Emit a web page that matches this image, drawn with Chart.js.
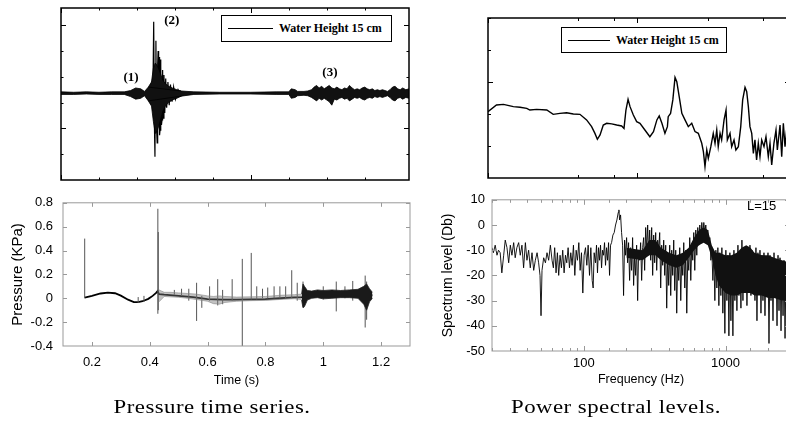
<!DOCTYPE html>
<html>
<head>
<meta charset="utf-8">
<script src="https://cdn.jsdelivr.net/npm/chart.js@4.4.1/dist/chart.umd.min.js"></script>
<style>
html, body { margin: 0; padding: 0; background: #fff; }
body { width: 786px; height: 428px; overflow: hidden; position: relative; }
.pane { position: absolute; }
.leg { position: absolute; box-sizing: border-box; border: 1px solid #000; background: #fff;
       font: bold 12px "Liberation Serif", serif; color: #000; display: flex; align-items: center; white-space: nowrap; }
.leg .ln { display: inline-block; border-top: 1px solid #000; margin: 0 6px 0 6px; }
.cap { position: absolute; font: 19px "Liberation Serif", serif; letter-spacing: 0.4px; color: #000;
       white-space: nowrap; transform: translateX(-50%) scaleX(1.2); transform-origin: center; }
.note { position: absolute; font: 13px "Liberation Sans", Arial, sans-serif; color: #000; }
</style>
</head>
<body>
<canvas id="tl" class="pane" width="358" height="182" style="left:56px;top:3px"></canvas>
<canvas id="tr" class="pane" width="312" height="170" style="left:483px;top:13px"></canvas>
<canvas id="bl" class="pane" width="420" height="215" style="left:0px;top:185px"></canvas>
<canvas id="br" class="pane" width="375" height="215" style="left:420px;top:185px"></canvas>

<div class="leg" style="left:221px;top:15px;width:171px;height:27px"><span class="ln" style="width:45px"></span>Water Height 15 cm</div>
<div class="leg" style="left:561px;top:27px;width:166px;height:26px"><span class="ln" style="width:42px"></span>Water Height 15 cm</div>
<div class="note" style="left:747px;top:198px">L=15</div>
<div class="cap" style="left:212px;top:396px">Pressure time series.</div>
<div class="cap" style="left:616px;top:396px">Power spectral levels.</div>

<script>
// ---- top left: raw pressure signal (arbitrary units) ----
var tlEnvT  = [0, 0.02, 0.04, 0.06, 0.08, 0.10, 0.110, 0.118, 0.126, 0.132, 0.138, 0.190,
               0.21, 0.25, 0.30, 0.34, 0.36, 0.364, 0.370, 0.374, 0.384,
               0.390, 0.396, 0.400, 0.404, 0.408, 0.412, 0.416, 0.420, 0.424, 0.428, 0.432, 0.436, 0.440, 0.444,
               0.448, 0.452, 0.456, 0.460, 0.464, 0.468, 0.472, 0.476, 0.480, 0.484, 0.488, 0.492, 0.496, 0.500,
               0.504, 0.508, 0.512, 0.516, 0.520, 0.524, 0.528, 0.532, 0.536, 0.540, 0.545, 0.550];
var tlEnvHi = [0.025, 0.02, 0.025, 0.02, 0.025, 0.025, 0.04, 0.07, 0.06, 0.03, 0.08, 0.035,
               0.025, 0.02, 0.02, 0.025, 0.025, 0.06, 0.05, 0.03, 0.03,
               0.035, 0.05, 0.08, 0.10, 0.07, 0.09, 0.06, 0.08, 0.10, 0.07, 0.06, 0.08, 0.06, 0.05,
               0.07, 0.06, 0.10, 0.07, 0.05, 0.06, 0.05, 0.07, 0.08, 0.06, 0.05, 0.06, 0.04, 0.05,
               0.04, 0.05, 0.04, 0.03, 0.05, 0.08, 0.09, 0.06, 0.05, 0.07, 0.05, 0.06];
var tlEnvLo = [-0.005, -0.005, 0.0, -0.005, -0.005, -0.005, -0.03, -0.06, -0.05, -0.02, -0.08, -0.025,
               -0.005, 0.0, 0.0, -0.005, -0.005, -0.05, -0.04, -0.02, -0.015,
               -0.02, -0.04, -0.06, -0.08, -0.05, -0.07, -0.05, -0.07, -0.09, -0.13, -0.06, -0.07, -0.05, -0.04,
               -0.06, -0.05, -0.08, -0.06, -0.04, -0.05, -0.04, -0.06, -0.07, -0.05, -0.04, -0.05, -0.03, -0.04,
               -0.03, -0.04, -0.03, -0.02, -0.04, -0.07, -0.08, -0.05, -0.04, -0.06, -0.04, -0.05];
var tlCoreT  = [0.138, 0.143, 0.146, 0.149, 0.152, 0.155, 0.158, 0.161, 0.165, 0.170, 0.176, 0.183, 0.190];
var tlCoreHi = [0.08, 0.14, 0.30, 0.36, 0.33, 0.28, 0.22, 0.16, 0.12, 0.09, 0.07, 0.05, 0.035];
var tlCoreLo = [-0.08, -0.14, -0.32, -0.46, -0.43, -0.36, -0.28, -0.20, -0.14, -0.10, -0.07, -0.05, -0.025];
var tlBurstT = [0.140, 0.142, 0.144, 0.145, 0.1465, 0.1475, 0.1485, 0.1492, 0.150, 0.151, 0.152, 0.1528, 0.1535, 0.1543,
                0.155, 0.1558, 0.1565, 0.1573, 0.158, 0.1588, 0.1597, 0.1606, 0.1615, 0.1627, 0.164, 0.1655, 0.167,
                0.169, 0.171, 0.173, 0.1755, 0.178, 0.181, 0.185, 0.19];
var tlBurstV = [0.08, -0.10, 0.15, -0.15, 0.84, -0.30, -0.73, 0.30, 0.62, -0.40, -0.57, 0.35, 0.50, -0.35,
                0.43, -0.48, -0.42, 0.40, 0.32, -0.36, -0.30, 0.28, -0.28, 0.22, -0.22, 0.18, -0.16,
                0.14, -0.13, 0.11, -0.09, 0.08, -0.06, 0.05, -0.03];
var tlNoteT = [0.1106, 0.175, 0.425];
var tlNoteV = [0.186, 0.849, 0.244];
var tlNoteText = ['(1)', '(2)', '(3)'];

// ---- top right: spectrum (arbitrary units) ----
var trFreq = [10.0, 11.4, 12.7, 14.8, 16.4, 18.2, 19.1, 21.2, 24.8, 27.4, 30.4, 33.7, 37.4, 41.4, 45.9, 49.6, 52.2, 54.2,
              56.5, 59.4, 62.6, 67.6, 73.1, 78.9, 81.8, 84.3, 87.1, 89.8, 94.5, 99.5, 104.7, 113, 122, 129, 136, 141,
              147, 154, 160, 162, 168, 174, 180, 185, 192, 200, 210, 221, 233, 245, 258, 272, 279, 286, 294, 301, 313,
              325, 334, 343, 351, 361, 370, 384, 396, 404, 421, 432, 448, 461, 479, 497, 512, 531, 545, 559, 573, 589,
              604, 619, 635, 652, 669, 687, 712, 734, 761, 781, 802, 830, 857, 875, 912, 936, 960, 985, 1010, 1040];
var trLevel = [41.4, 45.6, 46.0, 44.6, 44.2, 43.5, 42.5, 42.9, 42.5, 39.8, 40.4, 40.8, 40.0, 39.8, 36.3, 32.1, 27.9, 24.2,
               26.9, 33.1, 34.2, 33.8, 33.1, 32.5, 31.0, 42.5, 49.2, 44.6, 39.4, 35.2, 34.2, 30.0, 25.8, 29.0, 36.3, 38.8,
               34.2, 27.9, 32.1, 38.3, 40.4, 48.8, 62.9, 60.2, 50.8, 40.4, 36.3, 32.1, 34.2, 29.0, 27.9, 21.7, 16.5, 7.1,
               17.5, 12.3, 19.6, 27.9, 21.7, 30.0, 19.6, 27.9, 23.8, 36.3, 42.5, 23.8, 27.9, 19.6, 23.8, 17.5, 19.6, 32.1,
               48.8, 56.7, 53.9, 44.6, 32.1, 27.9, 15.4, 23.8, 11.3, 21.7, 13.3, 23.8, 19.6, 25.8, 13.3, 21.7, 8.1, 21.7,
               30.0, 17.5, 33.1, 13.3, 34.2, 19.6, 30.0, 18.0];

// ---- bottom left: pressure time series (KPa) ----
var blXTicks = [0.2, 0.4, 0.6, 0.8, 1.0, 1.2];
var blCurveT = [0.175, 0.20, 0.23, 0.255, 0.28, 0.30, 0.325, 0.345, 0.36, 0.375, 0.395, 0.41, 0.422, 0.427, 0.432, 0.45,
                0.50, 0.55, 0.60, 0.65, 0.70, 0.75, 0.80, 0.85, 0.90, 0.93, 0.95, 1.00, 1.05, 1.10, 1.14, 1.17];
var blCurveP = [0.005, 0.02, 0.04, 0.048, 0.042, 0.022, -0.012, -0.032, -0.033, -0.025, -0.005, 0.02, 0.045, 0.06, 0.035, 0.03,
                0.02, 0.01, -0.008, -0.012, -0.012, -0.01, -0.008, 0.0, 0.008, 0.01, 0.025, 0.03, 0.03, 0.035, 0.035, 0.025];
var blFuzzT  = [0.432, 0.45, 0.47, 0.50, 0.53, 0.56, 0.60, 0.62, 0.64, 0.66, 0.70, 0.75, 0.80, 0.85, 0.90, 0.925];
var blFuzzHi = [0.07, 0.05, 0.05, 0.045, 0.04, 0.035, 0.02, 0.015, 0.02, 0.015, 0.01, 0.012, 0.015, 0.025, 0.03, 0.035];
var blFuzzLo = [-0.03, 0.015, 0.012, 0.008, 0.0, -0.01, -0.025, -0.045, -0.05, -0.035, -0.025, -0.02, -0.018, -0.01, -0.004, -0.01];
var blDenseT  = [0.925, 0.930, 0.935, 0.945, 0.96, 0.98, 1.00, 1.03, 1.06, 1.09, 1.12, 1.14, 1.15, 1.16, 1.17];
var blDenseHi = [0.035, 0.12, 0.10, 0.065, 0.06, 0.07, 0.065, 0.07, 0.065, 0.07, 0.075, 0.10, 0.12, 0.08, 0.05];
var blDenseLo = [-0.015, -0.08, -0.07, -0.015, 0.0, 0.005, -0.005, 0.0, 0.005, 0.005, 0.0, -0.05, -0.10, -0.03, 0.0];
var blSpikeT  = [0.175, 0.36, 0.38, 0.428, 0.4295, 0.485, 0.51, 0.535, 0.562, 0.58, 0.607, 0.635, 0.652, 0.685, 0.72, 0.751,
                 0.77, 0.79, 0.808, 0.83, 0.85, 0.87, 0.891, 0.91, 0.93, 1.00, 1.045, 1.075, 1.102, 1.145, 1.15];
var blSpikeLo = [0.0, -0.04, -0.03, -0.13, -0.10, 0.03, 0.02, -0.02, -0.19, -0.08, -0.02, -0.06, -0.05, -0.02, -0.40, -0.01,
                 -0.01, 0.0, 0.0, 0.0, 0.0, 0.0, 0.0, -0.02, -0.07, -0.01, -0.11, 0.0, -0.02, -0.245, -0.18];
var blSpikeHi = [0.50, 0.01, 0.02, 0.75, 0.555, 0.07, 0.08, 0.08, 0.13, 0.02, 0.10, 0.16, 0.07, 0.16, 0.33, 0.38,
                 0.10, 0.08, 0.09, 0.10, 0.10, 0.10, 0.235, 0.13, 0.14, 0.10, 0.14, 0.10, 0.145, 0.19, 0.14];

// ---- bottom right: spectrum level (Db) vs frequency (Hz) ----
var brXTickLabels = [100, 1000];
var brFreq = [22.5, 23.0, 23.7, 24.4, 25.0, 25.7, 26.4, 27.2, 27.9, 28.7, 29.5, 30.3, 31.1, 32.0, 32.8, 33.7, 34.7, 35.6, 36.6, 37.6,
              38.7, 39.7, 40.8, 41.9, 43.1, 44.3, 45.5, 46.8, 48.0, 49.1, 49.9, 50.7, 52.1, 53.6, 55.0, 56.5, 58.1, 59.7, 61.0, 62.3,
              63.7, 65.1, 66.5, 68.0, 69.5, 71.0, 72.6, 74.2, 75.8, 77.5, 79.2, 80.9, 82.7, 84.5, 86.4, 88.3, 90.2, 92.2, 94.2, 96.3,
              98.4, 100.5, 102.8, 105.0, 107.3, 109.7, 112.1, 114.6, 116.4, 118.3, 120.9, 122.9, 124.9, 127.0, 129.1, 131.2, 133.4,
              135.6, 137.8, 140.0, 142.3, 144.7, 147.1, 149.5, 151.9, 154.4, 157.0, 160.4, 163.9, 167.5, 171.2, 175.0, 176.9, 178.8,
              181.7, 184.7, 187.8, 190.8, 194.0, 197.2, 200.4, 203.7, 207.0, 210.4, 213.9, 217.4, 221.0, 224.6, 228.3, 232.1, 235.9,
              239.8, 243.7, 247.7, 251.8, 255.9, 260.1, 264.4, 268.7, 273.2, 277.6, 282.2, 286.8, 291.5, 296.4, 301.2, 306.1, 311.2,
              316.2, 321.4, 326.8, 332.1, 337.5, 343.1, 348.7, 354.4, 360.3, 366.1, 372.2, 378.3, 384.5, 390.8, 397.2, 403.7, 410.4,
              417.1, 424.0, 430.9, 438.0, 445.2, 452.5, 459.9, 467.5, 475.2, 483.1, 490.9, 499.0, 507.2, 515.7, 524.1, 532.7, 541.5,
              550.2, 559.2, 568.5, 577.8, 587.3, 596.8, 606.7, 616.7, 626.8, 637.0, 647.5, 658.2, 669.0, 680.0, 691.2, 702.5, 714.1,
              725.8, 737.7, 749.9, 762.2, 774.8, 787.5, 800.5, 813.7, 827.1, 840.6, 854.5, 868.6, 882.8, 897.3, 912.0, 926.9, 942.3,
              957.4, 973.2, 989.2, 1005, 1022, 1039, 1056, 1073, 1091, 1109, 1127, 1146, 1164, 1184, 1203, 1223, 1243, 1263, 1284,
              1305, 1327, 1348, 1371, 1393, 1416, 1439, 1463, 1487, 1511, 1536, 1561, 1587, 1613, 1639, 1666, 1693, 1721, 1750, 1778,
              1807, 1837, 1867, 1898, 1929, 1961, 1993, 2026, 2059, 2093, 2127, 2162, 2198, 2234, 2271, 2308, 2346, 2384, 2423, 2463,
              2503, 2545, 2586, 2629, 2673, 2720, 2780, 2840];
var brLevel = [-9, -11, -8, -12, -10, -11, -19, -12, -6, -9, -15, -8, -12, -7, -13, -9, -7, -12, -8, -17,
               -7, -14, -10, -17, -11, -18, -14, -11, -15, -20, -36, -18, -13, -15, -11, -14, -8, -14, -17, -9,
               -19, -11, -20, -12, -17, -10, -19, -12, -15, -9, -17, -11, -16, -8, -20, -10, -14, -7, -18, -11,
               -27, -12, -9, -16, -8, -20, -9, -22, -25, -11, -15, -8, -19, -9, -14, -8, -17,
               -10, -12, -7, -16, -9, -14, -7, -20, -8, -7, -4, -3, 0, 2, 5, 6, 2,
               4, -3, -8, -28, -6, -12, -5, -15, -7, -22, -9, -18, -5, -24, -12, -20, -8,
               -30, -10, -14, -7, -22, -9, -5, -18, -1, -10, 0, -12, -2, -14, -1, -20, -4,
               -15, -3, -18, -6, -10, -3, -25, -8, -16, -6, -20, -8, -33, -12, -24, -8, -28,
               -10, -20, -6, -26, -10, -35, -12, -22, -9, -30, -13, -20, -7, -25, -10, -35, -12,
               -18, -5, -22, -8, -14, -3, -18, -2, -12, -1, -8, 0, -6, 1, -4, 1, -3,
               0, -5, -2, -8, -5, -14, -10, -22, -12, -30, -10, -25, -9, -32, -11, -28, -9,
               -35, -12, -43, -10, -30, -12, -44, -11, -38, -13, -44, -10, -30, -12, -34, -8, -28, -11, -33,
               -6, -30, -9, -26, -10, -32, -12, -22, -8, -28, -10, -20, -12, -30, -9, -38, -11, -27, -10, -35,
               -12, -30, -11, -36, -13, -28, -11, -47, -12, -30, -13, -38, -11, -28, -14, -40, -12, -34, -13, -42,
               -15, -36, -14, -45, -16, -30, -14, -38];
var brBandF  = [200, 260, 290, 320, 350, 400, 450, 500, 550, 600, 650, 700, 750, 800, 850, 900, 1000, 1100, 1200,
                1300, 1400, 1500, 1600, 1800, 2000, 2200, 2500, 2850];
var brBandHi = [-9, -10, -6, -6, -9, -11, -12, -11, -9, -5, -2, -1, -2, -8, -11, -11, -12, -12, -11,
                -9, -8, -9, -11, -12, -12, -13, -14, -15];
var brBandLo = [-13, -14, -12, -12, -14, -16, -17, -16, -13, -10, -8, -7, -8, -13, -20, -24, -27, -28, -28,
                -27, -27, -27, -28, -28, -29, -29, -30, -30];

function pts(xs, ys) {
    var out = [];
    for (var i = 0; i < xs.length; i++) out.push({x: xs[i], y: ys[i]});
    return out;
}
function spikePts(ts, lo, hi) {
    var out = [];
    for (var i = 0; i < ts.length; i++) {
        out.push({x: ts[i], y: lo[i]});
        out.push({x: ts[i], y: hi[i]});
        out.push({x: ts[i], y: null});
    }
    return out;
}
function fmt(v) { return String(Math.round(v * 100) / 100); }

// box round the plot area with short inward tick marks
function frameTicks(o) {
    return {
        id: 'frameTicks',
        afterDatasetsDraw: function(chart) {
            var ctx = chart.ctx, a = chart.chartArea;
            ctx.save();
            ctx.strokeStyle = o.color;
            ctx.lineWidth = 1;
            ctx.beginPath();
            ['x', 'y'].forEach(function(id) {
                var s = chart.scales[id], step = o[id + 'Major'];
                s.ticks.forEach(function(t) {
                    var v = t.value, major;
                    if (step === 'log') {
                        var l = Math.log10(v);
                        major = Math.abs(l - Math.round(l)) < 1e-6;
                    } else {
                        major = Math.abs(v / step - Math.round(v / step)) < 1e-6;
                    }
                    var len = major ? o.major : o.minor;
                    var p = Math.round(s.getPixelForValue(v)) + 0.5;
                    if (id === 'x') {
                        if (p < a.left || p > a.right) return;
                        ctx.moveTo(p, a.top); ctx.lineTo(p, a.top + len);
                        ctx.moveTo(p, a.bottom); ctx.lineTo(p, a.bottom - len);
                    } else {
                        if (p < a.top || p > a.bottom) return;
                        ctx.moveTo(a.left, p); ctx.lineTo(a.left + len, p);
                        ctx.moveTo(a.right, p); ctx.lineTo(a.right - len, p);
                    }
                });
            });
            ctx.stroke();
            ctx.lineWidth = o.width;
            ctx.strokeRect(a.left, a.top, a.width, a.height);
            ctx.restore();
        }
    };
}

var notes = {
    id: 'notes',
    afterDatasetsDraw: function(chart) {
        var ctx = chart.ctx, sx = chart.scales.x, sy = chart.scales.y;
        ctx.save();
        ctx.fillStyle = '#000';
        ctx.font = 'bold 13px "Liberation Serif"';
        ctx.textAlign = 'center';
        ctx.textBaseline = 'middle';
        for (var i = 0; i < tlNoteText.length; i++) {
            ctx.fillText(tlNoteText[i], sx.getPixelForValue(tlNoteT[i]), sy.getPixelForValue(tlNoteV[i]));
        }
        ctx.restore();
    }
};

Chart.defaults.font.family = '"Liberation Sans", Arial, sans-serif';
Chart.defaults.color = '#000';

var base = {
    responsive: false,
    animation: false,
    events: [],
    plugins: { legend: { display: false }, tooltip: { enabled: false } },
    elements: { point: { radius: 0 }, line: { tension: 0, borderColor: '#000', borderWidth: 1 } }
};
function opts(extra) {
    return Object.assign({}, base, extra);
}

new Chart(document.getElementById('tl'), {
    type: 'line',
    data: { datasets: [
        { data: pts(tlEnvT, tlEnvHi), borderWidth: 0.8, fill: false },
        { data: pts(tlEnvT, tlEnvLo), borderWidth: 0.8, fill: '-1', backgroundColor: '#111' },
        { data: pts(tlCoreT, tlCoreHi), borderWidth: 0.8, fill: false },
        { data: pts(tlCoreT, tlCoreLo), borderWidth: 0.8, fill: '-1', backgroundColor: '#111' },
        { data: pts(tlBurstT, tlBurstV), borderWidth: 1.2, fill: false }
    ] },
    options: opts({
        layout: { padding: 5 },
        scales: {
            x: { type: 'linear', display: false, min: 0, max: 0.55, ticks: { stepSize: 0.02 } },
            y: { type: 'linear', display: false, min: -1, max: 1, ticks: { stepSize: 0.1 } }
        }
    }),
    plugins: [frameTicks({ color: '#000', width: 1.5, xMajor: 0.1, yMajor: 0.4, major: 5, minor: 2.5 }), notes]
});

new Chart(document.getElementById('tr'), {
    type: 'line',
    data: { datasets: [
        { data: pts(trFreq, trLevel), borderWidth: 1.4, fill: false }
    ] },
    options: opts({
        layout: { padding: 5 },
        scales: {
            x: { type: 'logarithmic', display: false, min: 10, max: 1064 },
            y: { type: 'linear', display: false, min: 0, max: 100, ticks: { stepSize: 10 } }
        }
    }),
    plugins: [frameTicks({ color: '#000', width: 1.5, xMajor: 'log', yMajor: 30, major: 5, minor: 3 })]
});

new Chart(document.getElementById('bl'), {
    type: 'line',
    data: { datasets: [
        { data: pts(blFuzzT, blFuzzHi), borderWidth: 0.6, borderColor: '#888', fill: false },
        { data: pts(blFuzzT, blFuzzLo), borderWidth: 0.6, borderColor: '#888', fill: '-1', backgroundColor: 'rgba(120,120,120,0.45)' },
        { data: pts(blDenseT, blDenseHi), borderWidth: 0.8, borderColor: '#222', fill: false },
        { data: pts(blDenseT, blDenseLo), borderWidth: 0.8, borderColor: '#222', fill: '-1', backgroundColor: '#1a1a1a' },
        { data: spikePts(blSpikeT, blSpikeLo, blSpikeHi), borderWidth: 1, borderColor: '#555', fill: false, spanGaps: false },
        { data: pts(blCurveT, blCurveP), borderWidth: 1.8, fill: false }
    ] },
    options: opts({
        layout: { padding: { top: 10, right: 10, left: 0, bottom: 0 } },
        scales: {
            x: {
                type: 'linear', min: 0.1, max: 1.3,
                afterBuildTicks: function(s) { s.ticks = blXTicks.map(function(v) { return { value: v }; }); },
                afterFit: function(s) { s.height = 54; },
                grid: { display: false, drawTicks: false }, border: { display: false },
                ticks: { padding: 9, font: { size: 13 }, callback: fmt, autoSkip: false, maxRotation: 0 },
                title: { display: true, text: 'Time (s)', font: { size: 12.5 }, padding: { top: 0, bottom: 12 } }
            },
            y: {
                type: 'linear', min: -0.4, max: 0.8,
                afterFit: function(s) { s.width = 63; },
                grid: { display: false, drawTicks: false }, border: { display: false },
                ticks: { stepSize: 0.2, padding: 10, font: { size: 13 }, callback: fmt },
                title: { display: true, text: 'Pressure (KPa)', font: { size: 15 }, padding: { top: 9, bottom: 0 } }
            }
        }
    }),
    plugins: [frameTicks({ color: '#999', width: 1, xMajor: 0.2, yMajor: 0.2, major: 4, minor: 4 })]
});

new Chart(document.getElementById('br'), {
    type: 'line',
    data: { datasets: [
        { data: pts(brBandF, brBandHi), borderWidth: 0, fill: false },
        { data: pts(brBandF, brBandLo), borderWidth: 0, fill: '-1', backgroundColor: '#111' },
        { data: pts(brFreq, brLevel), borderWidth: 0.9, fill: false }
    ] },
    options: opts({
        layout: { padding: { top: 14, right: 5, left: 0, bottom: 0 } },
        scales: {
            x: {
                type: 'logarithmic', min: 22.5, max: 2850,
                afterFit: function(s) { s.height = 49; },
                grid: { display: false, drawTicks: false }, border: { display: false },
                ticks: {
                    padding: 5, font: { size: 13 }, autoSkip: false, maxRotation: 0,
                    callback: function(v) {
                        for (var i = 0; i < brXTickLabels.length; i++) {
                            if (Math.abs(v - brXTickLabels[i]) < 1e-6) return String(brXTickLabels[i]);
                        }
                        return '';
                    }
                },
                title: { display: true, text: 'Frequency (Hz)', font: { size: 12.5 }, padding: { top: 0, bottom: 13 } }
            },
            y: {
                type: 'linear', min: -50, max: 10,
                afterFit: function(s) { s.width = 72; },
                grid: { display: false, drawTicks: false }, border: { display: false },
                ticks: { stepSize: 10, padding: 7, font: { size: 13 }, callback: fmt },
                title: { display: true, text: 'Spectrum level (Db)', font: { size: 14 }, padding: { top: 20, bottom: 0 } }
            }
        }
    }),
    plugins: [frameTicks({ color: '#999', width: 1, xMajor: 'log', yMajor: 10, major: 5, minor: 3 })]
});
</script>
</body>
</html>
